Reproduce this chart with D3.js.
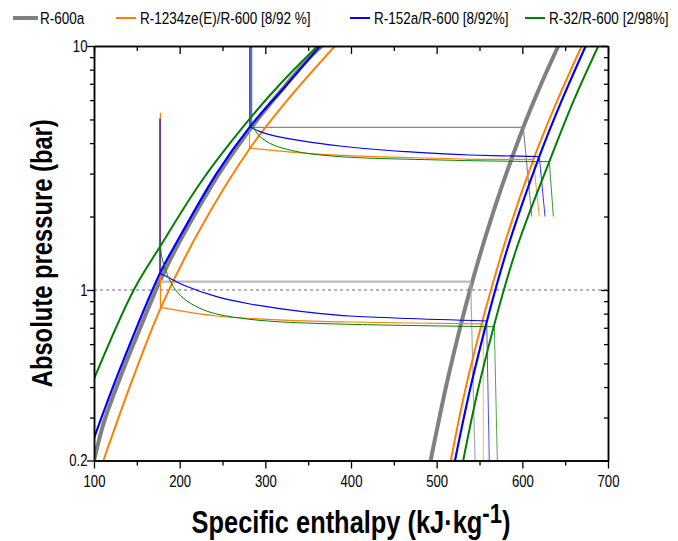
<!DOCTYPE html>
<html>
<head>
<meta charset="utf-8">
<script src="https://cdn.jsdelivr.net/npm/d3@7"></script>
<style>
    body { margin: 0; background: #fff; }
    text { font-family: "Liberation Sans", Arial, sans-serif; }
    .axis path, .axis line { stroke: #000; }
    .axis text { font-size: 16px; fill: #000; }
</style>
</head>
<body>
<div id="chart"></div>
<script>
// series names in legend order
var fluids = ['R-600a', 'R-1234ze(E)/R-600 [8/92 %]', 'R-152a/R-600 [8/92%]', 'R-32/R-600 [2/98%]'];

// saturated liquid lines [h kJ/kg, P bar]
var liq600a = [[100, 0.2], [112, 0.29], [133.5, 0.465], [155.5, 0.72], [176.5, 1.08], [199.5, 1.567], [223, 2.2], [246.5, 3.02], [271.5, 4.05], [297, 5.32], [323, 6.86], [348, 8.7], [366, 10]];
var liq1234 = [[111, 0.2], [143, 0.412], [178.2, 0.849], [224.6, 1.795], [282.1, 3.81], [328.8, 6.18], [381.3, 10]];
var liq152 = [[100, 0.247], [128.4, 0.456], [177, 1.171], [192.6, 1.482], [243.2, 3.008], [282.1, 4.67], [323, 6.81], [363.8, 10]];
var liq32 = [[100, 0.432], [146.4, 1], [177, 1.505], [226.5, 2.824], [282.1, 5.05], [319.5, 7.12], [361, 10]];

// saturated vapour lines
var vap600a = [[493, 0.2], [514, 0.448], [538.9, 1], [567.4, 2.156], [601.1, 4.64], [620.6, 6.81], [642, 10]];
var vap1234 = [[516.5, 0.2], [537.4, 0.448], [575.9, 1.414], [613.5, 3.47], [641.1, 6.01], [669.3, 10]];
var vap152 = [[521.4, 0.2], [542.9, 0.448], [580.9, 1.414], [619.8, 3.52], [646.3, 6.01], [674, 10]];
var vap32 = [[531, 0.2], [552.3, 0.448], [591.4, 1.414], [631.5, 3.357], [660.3, 6.01], [688.7, 10]];

// cycle lines, condenser side
var cond600a = [[282, 10], [282, 4.64], [601.1, 4.64], [611, 2]];
var cond1234Drop = [[281.5, 10], [281.5, 3.81]];
var cond1234 = [[282.1, 3.81], [348.3, 3.633], [426, 3.519], [503.9, 3.466], [538.9, 3.433], [612.8, 3.433]];
var comp1234High = [[612.8, 3.433], [619.8, 2]];
var cond152Drop = [[282.1, 10], [282.1, 4.67]];
var cond152 = [[282.1, 4.67], [293.8, 4.455], [309.3, 4.29], [348.3, 4.053], [387.2, 3.892], [426, 3.773], [465, 3.688], [503.9, 3.619], [538.9, 3.575], [619.8, 3.519]];
var comp152High = [[619.8, 3.519], [626.5, 2]];
var cond32Drop = [[284.1, 10], [284.1, 4.835]];
var cond32 = [[284.1, 4.835], [287.9, 4.525], [293.8, 4.249], [309.3, 3.929], [328.8, 3.748], [348.3, 3.633], [387.2, 3.519], [426, 3.466], [503.9, 3.411], [538.9, 3.388], [631.5, 3.357]];
var comp32High = [[631.5, 3.357], [636.2, 2]];

// cycle lines, evaporator side
var evap600a = [[177, 1.081], [539.7, 1.081]];
var comp600aLow = [[539.7, 1.081], [544.8, 0.2]];
var evap1234Drop = [[177.5, 5.33], [177.5, 0.849]];
var evap1234 = [[177.5, 0.849], [243.2, 0.782], [321, 0.753], [398.8, 0.739], [554.4, 0.726]];
var comp1234Low = [[554.4, 0.726], [554.4, 0.2]];
var evap152Drop = [[177, 5.03], [177, 1.171]];
var evap152 = [[177, 1.171], [188.7, 1.117], [204.2, 1.048], [243.2, 0.939], [282.1, 0.876], [321, 0.834], [360, 0.803], [398.8, 0.782], [558.4, 0.746]];
var comp152Low = [[558.4, 0.746], [561.4, 0.2]];
var evap32Drop = [[177.5, 5.1], [177.5, 1.558]];
var evap32 = [[177.5, 1.558], [179, 1.369], [184.9, 1.171], [192.6, 1.032], [204.2, 0.925], [223.7, 0.841], [243.2, 0.797], [282.1, 0.758], [321, 0.739], [398.8, 0.723], [567.3, 0.707]];
var comp32Low = [[567.3, 0.707], [570.8, 0.2]];

var xTicks = [100, 200, 300, 400, 500, 600, 700];
var xMinor = [150, 250, 350, 450, 550, 650];
var yTicks = [0.2, 1, 10];
var yMinor = [0.3, 0.4, 0.5, 0.6, 0.7, 0.8, 0.9, 2, 3, 4, 5, 6, 7, 8, 9];

var colors = ['#808080', '#ff7f00', '#0000ff', '#008000'];

var width = 678, height = 541;
var plotLeft = 94, plotRight = 608, plotTop = 46, plotBottom = 460.5;
var narrow = 'scale(0.82,1)';

var svg = d3.select('#chart').append('svg')
    .attr('width', width)
    .attr('height', height);

var x = d3.scaleLinear().domain([100, 700]).range([plotLeft, plotRight]);
var y = d3.scaleLog().domain([0.2, 10]).range([plotBottom, plotTop]);

svg.append('clipPath').attr('id', 'plot')
    .append('rect')
    .attr('x', plotLeft).attr('y', plotTop)
    .attr('width', plotRight - plotLeft).attr('height', plotBottom - plotTop);

var smooth = d3.line()
    .x(function (d) { return x(d[0]); })
    .y(function (d) { return y(d[1]); })
    .curve(d3.curveCatmullRom);

var straight = d3.line()
    .x(function (d) { return x(d[0]); })
    .y(function (d) { return y(d[1]); });

var g = svg.append('g').attr('clip-path', 'url(#plot)');

// reference line at 1 bar
g.append('line')
    .attr('x1', plotLeft).attr('x2', plotRight)
    .attr('y1', y(1)).attr('y2', y(1))
    .attr('stroke', '#444').attr('stroke-width', 0.8)
    .attr('stroke-dasharray', '3,3');

function draw (data, color, w, curved, opacity) {
    g.append('path')
        .datum(data)
        .attr('d', curved ? smooth : straight)
        .attr('fill', 'none')
        .attr('stroke', color)
        .attr('stroke-width', w)
        .attr('stroke-opacity', opacity || 1);
}

// R-600a
draw(liq600a, colors[0], 4, true);
draw(vap600a, colors[0], 4, true);
draw(cond600a, '#888', 1.2, false);
draw(evap600a, '#bbb', 2.2, false);
draw(comp600aLow, '#aaa', 1.2, false);

// green drops sit under the blue ones
draw(evap32Drop, colors[3], 1, false);

// R-1234ze(E)/R-600
draw(liq1234, colors[1], 2, true);
draw(vap1234, colors[1], 2, true);
draw(cond1234Drop, colors[1], 1, false);
draw(cond1234, colors[1], 1.2, true);
draw(comp1234High, colors[1], 1, false, 0.8);
draw(evap1234Drop, colors[1], 1.2, false);
draw(evap1234, colors[1], 1.2, true);
draw(comp1234Low, colors[1], 1, false, 0.6);

// R-152a/R-600
draw(liq152, colors[2], 2.2, true);
draw(vap152, colors[2], 2.2, true);
draw(cond152Drop, colors[2], 1, false);
draw(cond152, colors[2], 1.2, true);
draw(comp152High, colors[2], 1, false, 0.8);
draw(evap152Drop, colors[2], 1.2, false);
draw(evap152, colors[2], 1.2, true);
draw(comp152Low, colors[2], 1, false, 0.7);

// R-32/R-600
draw(liq32, colors[3], 2, true);
draw(vap32, colors[3], 2, true);
draw(cond32Drop, colors[3], 1, false);
draw(cond32, colors[3], 1, true);
draw(comp32High, colors[3], 1, false, 0.8);
draw(evap32, colors[3], 1, true);
draw(comp32Low, colors[3], 1, false, 0.7);

// axes
function axis (gen, tx, ty) {
    var a = svg.append('g')
        .attr('class', 'axis')
        .attr('transform', 'translate(' + tx + ',' + ty + ')')
        .call(gen);
    a.select('.domain').attr('stroke-width', 1.5);
    a.selectAll('.tick line').attr('stroke-width', 1.3);
    a.selectAll('.tick text').attr('font-family', null).attr('font-size', null);
    return a;
}

axis(d3.axisBottom(x).tickValues(xTicks).tickSize(8).tickSizeOuter(0).tickPadding(7), 0, plotBottom)
    .selectAll('.tick text').attr('transform', narrow);
axis(d3.axisBottom(x).tickValues(xMinor).tickSize(5).tickSizeOuter(0).tickFormat(''), 0, plotBottom);
axis(d3.axisTop(x).tickValues(xTicks).tickSize(-8).tickSizeOuter(0).tickFormat(''), 0, plotTop);
axis(d3.axisTop(x).tickValues(xMinor).tickSize(-5).tickSizeOuter(0).tickFormat(''), 0, plotTop);

axis(d3.axisLeft(y).tickValues(yTicks).tickSize(7).tickSizeOuter(0).tickPadding(0)
    .tickFormat(function (d) { return d; }), plotLeft, 0)
    .selectAll('.tick text').attr('x', -8).attr('transform', narrow);
axis(d3.axisLeft(y).tickValues(yMinor).tickSize(4).tickSizeOuter(0).tickFormat(''), plotLeft, 0);
axis(d3.axisRight(y).tickValues(yTicks).tickSize(-7).tickSizeOuter(0).tickFormat(''), plotRight, 0);
axis(d3.axisRight(y).tickValues(yMinor).tickSize(-4).tickSizeOuter(0).tickFormat(''), plotRight, 0);

// axis titles
svg.append('text')
    .attr('transform', 'translate(52,' + ((plotTop + plotBottom) / 2) + ') rotate(-90) ' + narrow)
    .attr('text-anchor', 'middle')
    .style('font-size', '29px')
    .style('font-weight', 'bold')
    .text('Absolute pressure (bar)');

var xt = svg.append('text')
    .attr('transform', 'translate(' + ((plotLeft + plotRight) / 2) + ',533) ' + narrow)
    .attr('text-anchor', 'middle')
    .style('font-size', '31px')
    .style('font-weight', 'bold');
xt.append('tspan').text('Specific enthalpy (kJ·kg');
xt.append('tspan').attr('dy', -10).style('font-size', '27px').text('-1');
xt.append('tspan').attr('dy', 10).text(')');

// legend
var legendX = [13, 116, 350, 525];
var legend = svg.selectAll('.legend')
    .data(fluids)
    .enter()
    .append('g')
    .attr('class', 'legend')
    .attr('transform', function (d, i) { return 'translate(' + legendX[i] + ',18)'; });

legend.append('line')
    .attr('x1', 0).attr('x2', function (d, i) { return i === 0 ? 25 : 20; })
    .attr('stroke', function (d, i) { return colors[i]; })
    .attr('stroke-width', function (d, i) { return i === 0 ? 4 : 2; });

legend.append('text')
    .attr('transform', function (d, i) { return 'translate(' + (i === 0 ? 27 : 24) + ',6) ' + narrow; })
    .style('font-size', '16.5px')
    .text(function (d) { return d; });
</script>
</body>
</html>
